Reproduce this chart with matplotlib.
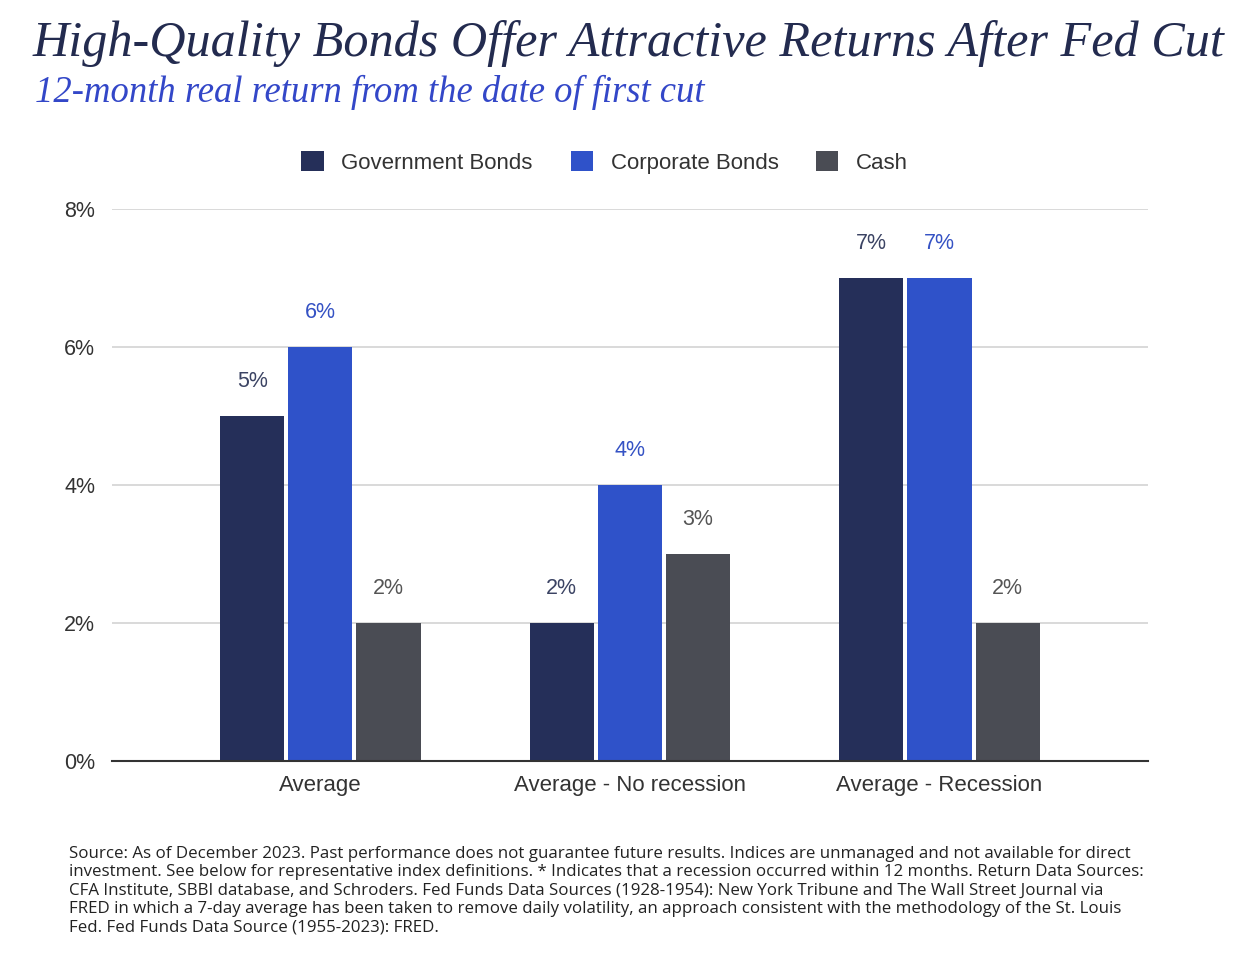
import numpy as np
import matplotlib.pyplot as plt

categories = ["Average", "Average - No recession", "Average - Recession"]
series_names = ["Government Bonds", "Corporate Bonds", "Cash"]
gov_bonds = [5, 2, 7]
corp_bonds = [6, 4, 7]
cash = [2, 3, 2]
y_ticks = [0, 2, 4, 6, 8]

title = "High-Quality Bonds Offer Attractive Returns After Fed Cut"
subtitle = "12-month real return from the date of first cut"
footnote = ("Source: As of December 2023. Past performance does not guarantee future results. Indices are unmanaged and not available for direct\n"
            "investment. See below for representative index definitions. * Indicates that a recession occurred within 12 months. Return Data Sources:\n"
            "CFA Institute, SBBI database, and Schroders. Fed Funds Data Sources (1928-1954): New York Tribune and The Wall Street Journal via\n"
            "FRED in which a 7-day average has been taken to remove daily volatility, an approach consistent with the methodology of the St. Louis\n"
            "Fed. Fed Funds Data Source (1955-2023): FRED.")

colors = ["#252f59", "#2f52c9", "#4a4c54"]
label_colors = ["#3b4363", "#3552c4", "#555555"]
sans = "Liberation Sans"

fig = plt.figure(figsize=(12.42, 9.68), dpi=100)
ax = fig.add_axes([0.0902, 0.2138, 0.834, 0.570])

x = np.arange(len(categories))
width = 0.207
pitch = 0.22
for i, (vals, name) in enumerate(zip([gov_bonds, corp_bonds, cash], series_names)):
    pos = x + (i - 1) * pitch
    ax.bar(pos, vals, width, color=colors[i], label=name, zorder=3)
    for px, v in zip(pos, vals):
        ax.text(px, v + 0.35, f"{v}%", ha="center", va="bottom", fontsize=15.5,
                color=label_colors[i], family=sans)

ax.set_xlim(-0.673, 2.673)
ax.set_ylim(0, 8)
ax.set_yticks(y_ticks)
ax.set_yticklabels([f"{t}%" for t in y_ticks], fontsize=15.5, family=sans, color="#333333")
ax.set_xticks(x)
ax.set_xticklabels(categories, fontsize=16, family=sans, color="#333333")
ax.tick_params(length=0, pad=10)
ax.tick_params(axis="y", pad=12)
ax.grid(axis="y", color="#d3d3d3", linewidth=1.2, zorder=0)
for s in ["top", "right", "left"]:
    ax.spines[s].set_visible(False)
ax.spines["bottom"].set_color("#333333")
ax.spines["bottom"].set_linewidth(1.5)
ax.spines["bottom"].set_zorder(4)

leg = fig.legend(loc="center", bbox_to_anchor=(0.487, 0.832), ncol=3, frameon=False,
                 prop={"family": sans, "size": 16}, handlelength=1.0, handleheight=1.0,
                 columnspacing=1.7, handletextpad=0.8)
for t in leg.get_texts():
    t.set_color("#333333")

fig.text(0.026, 0.955, title, fontsize=36.2, family="Liberation Serif", style="italic",
         color="#232b4f", va="center", ha="left")
fig.text(0.028, 0.904, subtitle, fontsize=26.4, family="Liberation Serif", style="italic",
         color="#3347c8", va="center", ha="left")
fig.text(0.0555, 0.126, footnote, fontsize=12.2, family="Open Sans", color="#222222",
         va="top", ha="left", linespacing=1.2)

fig.savefig("out.png", dpi=100)
